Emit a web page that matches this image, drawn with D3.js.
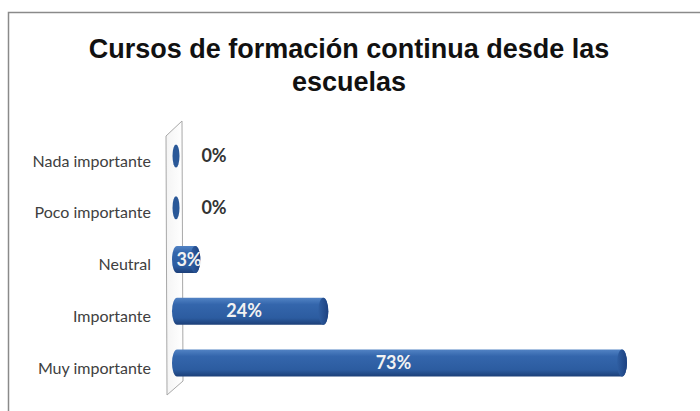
<!DOCTYPE html>
<html><head><meta charset="utf-8">
<script src="https://cdn.jsdelivr.net/npm/d3@7"></script>
<style>body{margin:0;background:#fff}svg{display:block}</style>
</head><body>
<svg id="c" width="700" height="411"></svg>
<script>
const categories = ["Nada importante","Poco importante","Neutral","Importante","Muy importante"];
const values = [0, 0, 0.03, 0.24, 0.73];
const labels = ["0%","0%","3%","24%","73%"];
const titleLines = ["Cursos de formación continua desde las","escuelas"];

const svg = d3.select("#c");
const defs = svg.append("defs");
const g1 = defs.append("linearGradient").attr("id","barG").attr("x1",0).attr("y1",0).attr("x2",0).attr("y2",1);
g1.append("stop").attr("offset","0%").attr("stop-color","#5283c4");
g1.append("stop").attr("offset","25%").attr("stop-color","#3466ac");
g1.append("stop").attr("offset","75%").attr("stop-color","#2c5ca0");
g1.append("stop").attr("offset","100%").attr("stop-color","#1c3f78");
const g2 = defs.append("linearGradient").attr("id","capG").attr("x1",0).attr("y1",0).attr("x2",1).attr("y2",0);
g2.append("stop").attr("offset","0%").attr("stop-color","#2f5fa3");
g2.append("stop").attr("offset","100%").attr("stop-color","#1d4180");
const g3 = defs.append("linearGradient").attr("id","wallG").attr("x1",0).attr("y1",0).attr("x2",1).attr("y2",0);
g3.append("stop").attr("offset","0%").attr("stop-color","#f4f4f4");
g3.append("stop").attr("offset","100%").attr("stop-color","#ffffff");

// frame
svg.append("path").attr("d","M8.5,411 V12.5 H700").attr("fill","none").attr("stroke","#8a8a8a").attr("stroke-width",1.5);

// title
svg.append("g").selectAll("text").data(titleLines).join("text")
  .attr("x",349).attr("y",(d,i)=>58+i*33)
  .attr("text-anchor","middle")
  .attr("font-family","Liberation Sans, Arial, sans-serif")
  .attr("font-weight","bold").attr("font-size",27).attr("fill","#111")
  .text(d=>d);

const x = d3.scaleLinear().domain([0,0.73]).range([177,622]);
const y = d3.scalePoint().domain(categories).range([156,363]);
const bh = 27, rx = 5;

// wall
svg.append("path").attr("d","M166,136 L182,121 L183,381 L167,395 Z")
  .attr("fill","url(#wallG)").attr("stroke","#a8a8a8").attr("stroke-width",1);

// axis
const ax = svg.append("g").attr("transform","translate(166,5)")
  .call(d3.axisLeft(y).tickSize(0).tickPadding(15));
ax.select(".domain").remove();
ax.selectAll("text").attr("font-family","Lato, sans-serif").attr("font-size",16).attr("fill","#404040");

const data = categories.map((c,i)=>({c, v:values[i], l:labels[i]}));
const bars = svg.append("g").selectAll("g").data(data).join("g");
bars.each(function(d){
  const g = d3.select(this);
  const yc = y(d.c), x0 = x(0), x1 = x(d.v);
  if (x1 - x0 > 0.5) {
    g.append("path")
      .attr("d",`M${x0},${yc-bh/2} H${x1} A${rx},${bh/2} 0 0 1 ${x1},${yc+bh/2} H${x0} A${rx},${bh/2} 0 0 1 ${x0},${yc-bh/2} Z`)
      .attr("fill","url(#barG)");
    g.append("ellipse").attr("cx",x1).attr("cy",yc).attr("rx",rx).attr("ry",bh/2).attr("fill","url(#capG)");
  } else {
    g.append("ellipse").attr("cx",x0-1).attr("cy",yc).attr("rx",3.5).attr("ry",bh/2-2).attr("fill","#2a5898");
  }
});

// value labels
svg.append("g").selectAll("text").data(data).join("text")
  .attr("x",d=> d.v>0.1 ? (x(0)+x(d.v))/2 - 6 : (d.v>0 ? x(0)+12 : 214))
  .attr("y",d=>y(d.c)+6)
  .attr("text-anchor","middle")
  .attr("font-family","Lato, sans-serif").attr("font-weight","bold").attr("font-size",18)
  .attr("fill",d=> d.v>0 ? "#f2f2f2" : "#333")
  .text(d=>d.l);
</script>
</body></html>
